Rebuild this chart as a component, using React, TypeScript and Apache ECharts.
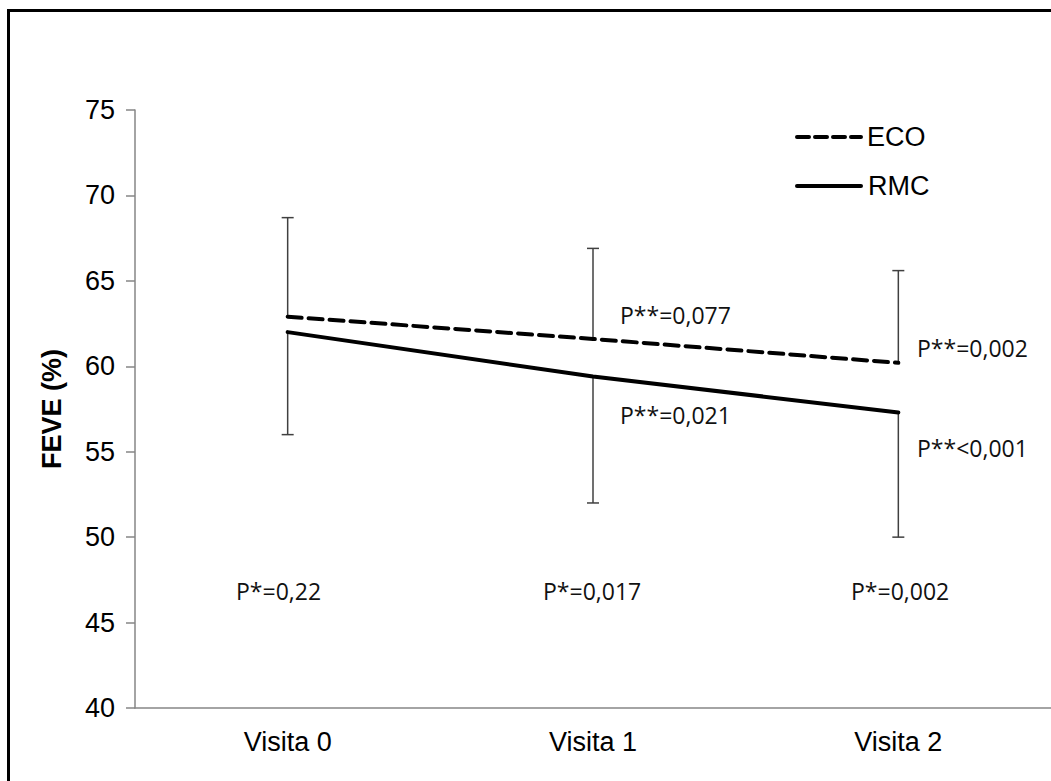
import React, { useEffect, useRef } from "react";
import * as echarts from "echarts";

const categories = ["Visita 0", "Visita 1", "Visita 2"];
const ecoMean = [62.9, 61.6, 60.2];
const ecoUpper = [68.7, 66.9, 65.6];
const rmcMean = [62.0, 59.4, 57.3];
const rmcLower = [56.0, 52.0, 50.0];
const pStarLabels = ["P*=0,22", "P*=0,017", "P*=0,002"];
const pEcoLabels = ["", "P**=0,077", "P**=0,002"];
const pRmcLabels = ["", "P**=0,021", "P**<0,001"];
const yTicks = { min: 40, max: 75, interval: 5 };

const ANN_FONT = '"Open Sans", "Noto Sans", sans-serif';
const AX_FONT = '"Liberation Sans", Arial, sans-serif';

export default function App() {
  const ref = useRef<HTMLDivElement>(null);
  useEffect(() => {
    if (!ref.current) return;
    const chart = echarts.init(ref.current, null, { renderer: "svg" });

    const ecoErr = categories.map((_, i) => [i, ecoMean[i], ecoUpper[i]]);
    const rmcErr = categories.map((_, i) => [i, rmcLower[i], rmcMean[i]]);

    const errRender = (capTop: boolean) => (params: any, api: any) => {
      const x = api.value(0);
      const lo = api.coord([x, api.value(1)]);
      const hi = api.coord([x, api.value(2)]);
      const capY = capTop ? hi[1] : lo[1];
      const st = { stroke: "#404040", lineWidth: 1.5 };
      return {
        type: "group",
        children: [
          { type: "line", shape: { x1: hi[0], y1: hi[1], x2: lo[0], y2: lo[1] }, style: st },
          { type: "line", shape: { x1: hi[0] - 6, y1: capY, x2: hi[0] + 6, y2: capY }, style: st },
        ],
      };
    };

    const annText = (text: string, x: number, y: number) => ({
      type: "text",
      x,
      y,
      style: {
        text,
        font: `23px ${ANN_FONT}`,
        fill: "#111",
        textAlign: "left",
        textVerticalAlign: "middle",
      },
    });

    const graphics: any[] = [
      {
        type: "rect",
        shape: { x: 8.5, y: 10.5, width: 1200, height: 1000 },
        style: { fill: "none", stroke: "#000", lineWidth: 3 },
        silent: true,
      },
      {
        type: "text",
        x: 52,
        y: 409,
        rotation: Math.PI / 2,
        style: {
          text: "FEVE (%)",
          font: `bold 27px ${AX_FONT}`,
          fill: "#000",
          textAlign: "center",
          textVerticalAlign: "middle",
        },
      },
      // legend
      {
        type: "line",
        shape: { x1: 797, y1: 137, x2: 861, y2: 137 },
        style: { stroke: "#000", lineWidth: 4, lineDash: [12, 6], lineCap: "round" },
      },
      {
        type: "text",
        x: 867,
        y: 137,
        style: { text: "ECO", font: `27px ${AX_FONT}`, fill: "#000", textVerticalAlign: "middle" },
      },
      {
        type: "line",
        shape: { x1: 797, y1: 186, x2: 861, y2: 186 },
        style: { stroke: "#000", lineWidth: 4, lineCap: "round" },
      },
      {
        type: "text",
        x: 868,
        y: 186,
        style: { text: "RMC", font: `27px ${AX_FONT}`, fill: "#000", textVerticalAlign: "middle" },
      },
      annText(pStarLabels[0], 236, 591),
      annText(pStarLabels[1], 543, 591),
      annText(pStarLabels[2], 851, 591),
      annText(pEcoLabels[1], 620, 315),
      annText(pRmcLabels[1], 620, 415),
      annText(pEcoLabels[2], 917, 348),
      annText(pRmcLabels[2], 917, 448),
    ];

    chart.setOption({
      animation: false,
      backgroundColor: "#fff",
      grid: { left: 135, top: 110, height: 598, width: 925.5 },
      xAxis: {
        type: "category",
        data: categories,
        boundaryGap: true,
        axisLine: { lineStyle: { color: "#868686", width: 1.5 } },
        axisTick: { show: false },
        axisLabel: { color: "#000", fontSize: 27, fontFamily: AX_FONT, margin: 20 },
      },
      yAxis: {
        type: "value",
        min: yTicks.min,
        max: yTicks.max,
        interval: yTicks.interval,
        splitLine: { show: false },
        axisLine: { show: true, lineStyle: { color: "#868686", width: 1.5 } },
        axisTick: { show: true, length: 9, lineStyle: { color: "#868686", width: 1.5 } },
        axisLabel: { color: "#000", fontSize: 27, fontFamily: AX_FONT, margin: 20 },
      },
      series: [
        {
          type: "custom",
          name: "ECO err",
          renderItem: errRender(true),
          data: ecoErr,
          z: 1,
        },
        {
          type: "custom",
          name: "RMC err",
          renderItem: errRender(false),
          data: rmcErr,
          z: 1,
        },
        {
          type: "line",
          name: "ECO",
          data: ecoMean,
          symbol: "none",
          lineStyle: { color: "#000", width: 4, type: [14, 7], cap: "round" },
          z: 3,
        },
        {
          type: "line",
          name: "RMC",
          data: rmcMean,
          symbol: "none",
          lineStyle: { color: "#000", width: 4, cap: "round" },
          z: 3,
        },
      ],
      graphic: graphics,
    });
    return () => chart.dispose();
  }, []);
  return (
    <div
      ref={ref}
      style={{ position: "absolute", left: 0, top: 0, width: 1051, height: 781, background: "#fff" }}
    />
  );
}
